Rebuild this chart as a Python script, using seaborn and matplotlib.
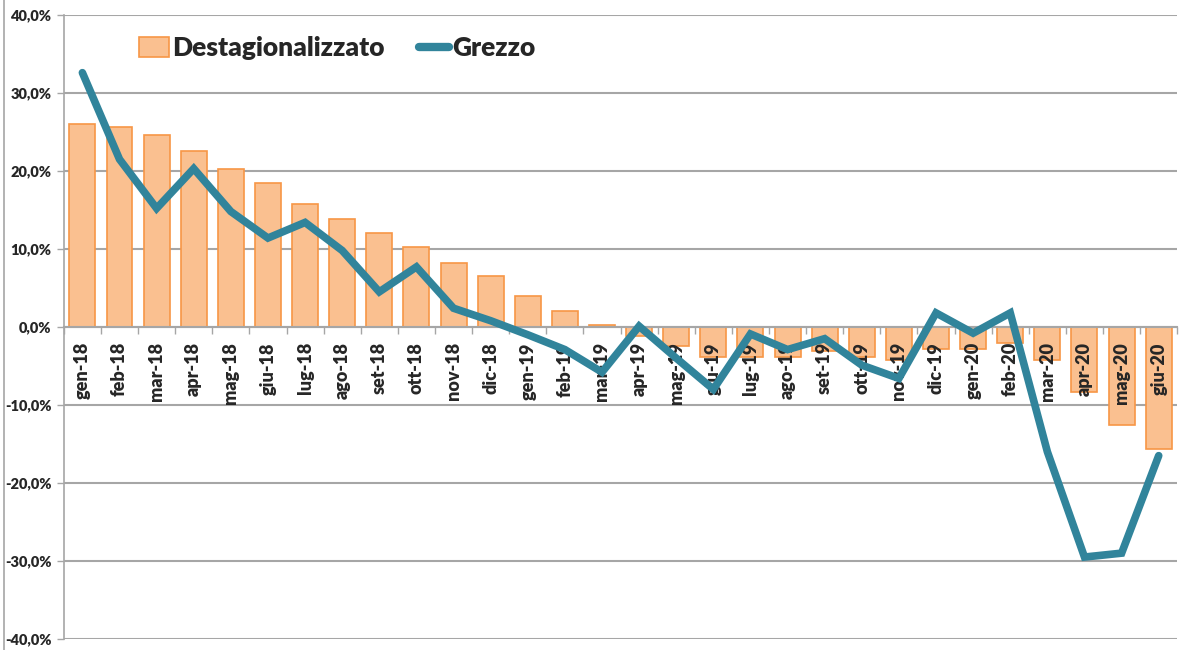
import matplotlib
matplotlib.use("Agg")
import matplotlib.pyplot as plt
import matplotlib.ticker as mticker
from matplotlib.lines import Line2D
from matplotlib.patches import Patch
import numpy as np
import pandas as pd
import seaborn as sns

mesi = ['gen-18', 'feb-18', 'mar-18', 'apr-18', 'mag-18', 'giu-18', 'lug-18', 'ago-18',
        'set-18', 'ott-18', 'nov-18', 'dic-18', 'gen-19', 'feb-19', 'mar-19', 'apr-19',
        'mag-19', 'giu-19', 'lug-19', 'ago-19', 'set-19', 'ott-19', 'nov-19', 'dic-19',
        'gen-20', 'feb-20', 'mar-20', 'apr-20', 'mag-20', 'giu-20']
destagionalizzato = [26.0, 25.6, 24.6, 22.6, 20.3, 18.5, 15.7, 13.9, 12.1, 10.2, 8.2, 6.5,
                     4.0, 2.1, 0.2, -1.2, -2.4, -3.9, -3.9, -3.9, -3.1, -3.9, -4.3, -2.8,
                     -2.8, -2.0, -4.3, -8.4, -12.6, -15.6]
grezzo = [32.6, 21.5, 15.2, 20.3, 14.8, 11.4, 13.4, 9.8, 4.5, 7.7, 2.4, 0.8,
          -1.0, -2.9, -5.8, 0.1, -4.0, -8.0, -0.9, -2.9, -1.5, -4.9, -6.6, 1.8,
          -0.8, 1.8, -16.0, -29.5, -29.0, -16.5]

df = pd.DataFrame({'mese': mesi, 'Destagionalizzato': destagionalizzato, 'Grezzo': grezzo})
df['pos'] = np.arange(len(df))

sns.set_style("white")
plt.rcParams['font.family'] = ['Lato', 'DejaVu Sans']
plt.rcParams['font.weight'] = 'bold'

bar_fill = '#FAC090'
bar_edge = '#F79646'
line_col = '#31849B'
grid_col = '#A6A6A6'

fig = plt.figure(figsize=(11.82, 6.5), dpi=100)
ax = fig.add_axes([0.054, 0.017, 0.942, 0.960])

sns.barplot(data=df, x='mese', y='Destagionalizzato', color=bar_fill, edgecolor=bar_edge,
            linewidth=1.2, width=0.7, saturation=1, ax=ax, zorder=2)
ax.plot(df['pos'], df['Grezzo'], color=line_col, linewidth=5.5, solid_joinstyle='miter', zorder=4)

ax.set_xlim(-0.5, len(mesi) - 0.5)
ax.set_ylim(-40, 40)
ax.set_yticks(np.arange(-40, 41, 10))
ax.yaxis.set_major_formatter(mticker.FuncFormatter(lambda v, p: f'{v:.1f}%'.replace('.', ',')))
ax.yaxis.grid(True, color=grid_col, linewidth=1.5, zorder=0)
ax.set_axisbelow(True)
ax.tick_params(axis='y', length=5, width=1, color=grid_col, labelsize=10.5, pad=4, left=True)
for lab in ax.get_yticklabels():
    lab.set_fontweight('heavy')

# x axis at zero, labels drawn over the bars
ax.spines['bottom'].set_position(('data', 0))
ax.spines['bottom'].set_color(grid_col)
ax.spines['bottom'].set_linewidth(1.5)
ax.spines['left'].set_color(grid_col)
ax.spines['left'].set_linewidth(1.2)
ax.spines['top'].set_visible(False)
ax.spines['right'].set_visible(False)
ax.set_xticks(np.arange(len(mesi)))
ax.set_xticklabels(mesi, rotation=90, fontsize=13, fontweight='heavy', va='top')
ax.xaxis.set_minor_locator(mticker.FixedLocator(np.arange(-0.5, len(mesi), 1)))
ax.tick_params(axis='x', which='major', length=0, pad=11)
ax.tick_params(axis='x', which='minor', length=5, width=1, color=grid_col, bottom=True)
ax.xaxis.set_zorder(3)
ax.spines['bottom'].set_zorder(3)
ax.set_xlabel('')
ax.set_ylabel('')

handles = [Patch(facecolor=bar_fill, edgecolor=bar_edge, linewidth=1.2),
           Line2D([0], [0], color=line_col, linewidth=6)]
ax.legend(handles, ['Destagionalizzato', 'Grezzo'], ncol=2, frameon=False,
          loc='upper left', bbox_to_anchor=(0.046, 1.004),
          prop={'weight': 'heavy', 'size': 19}, handlelength=1.15, handleheight=0.75,
          handletextpad=0.12, columnspacing=1.3)

fig.add_artist(Line2D([0.003, 0.003], [0, 1], color=grid_col, linewidth=1.2,
                      transform=fig.transFigure))

fig.savefig('out.png', dpi=100)
